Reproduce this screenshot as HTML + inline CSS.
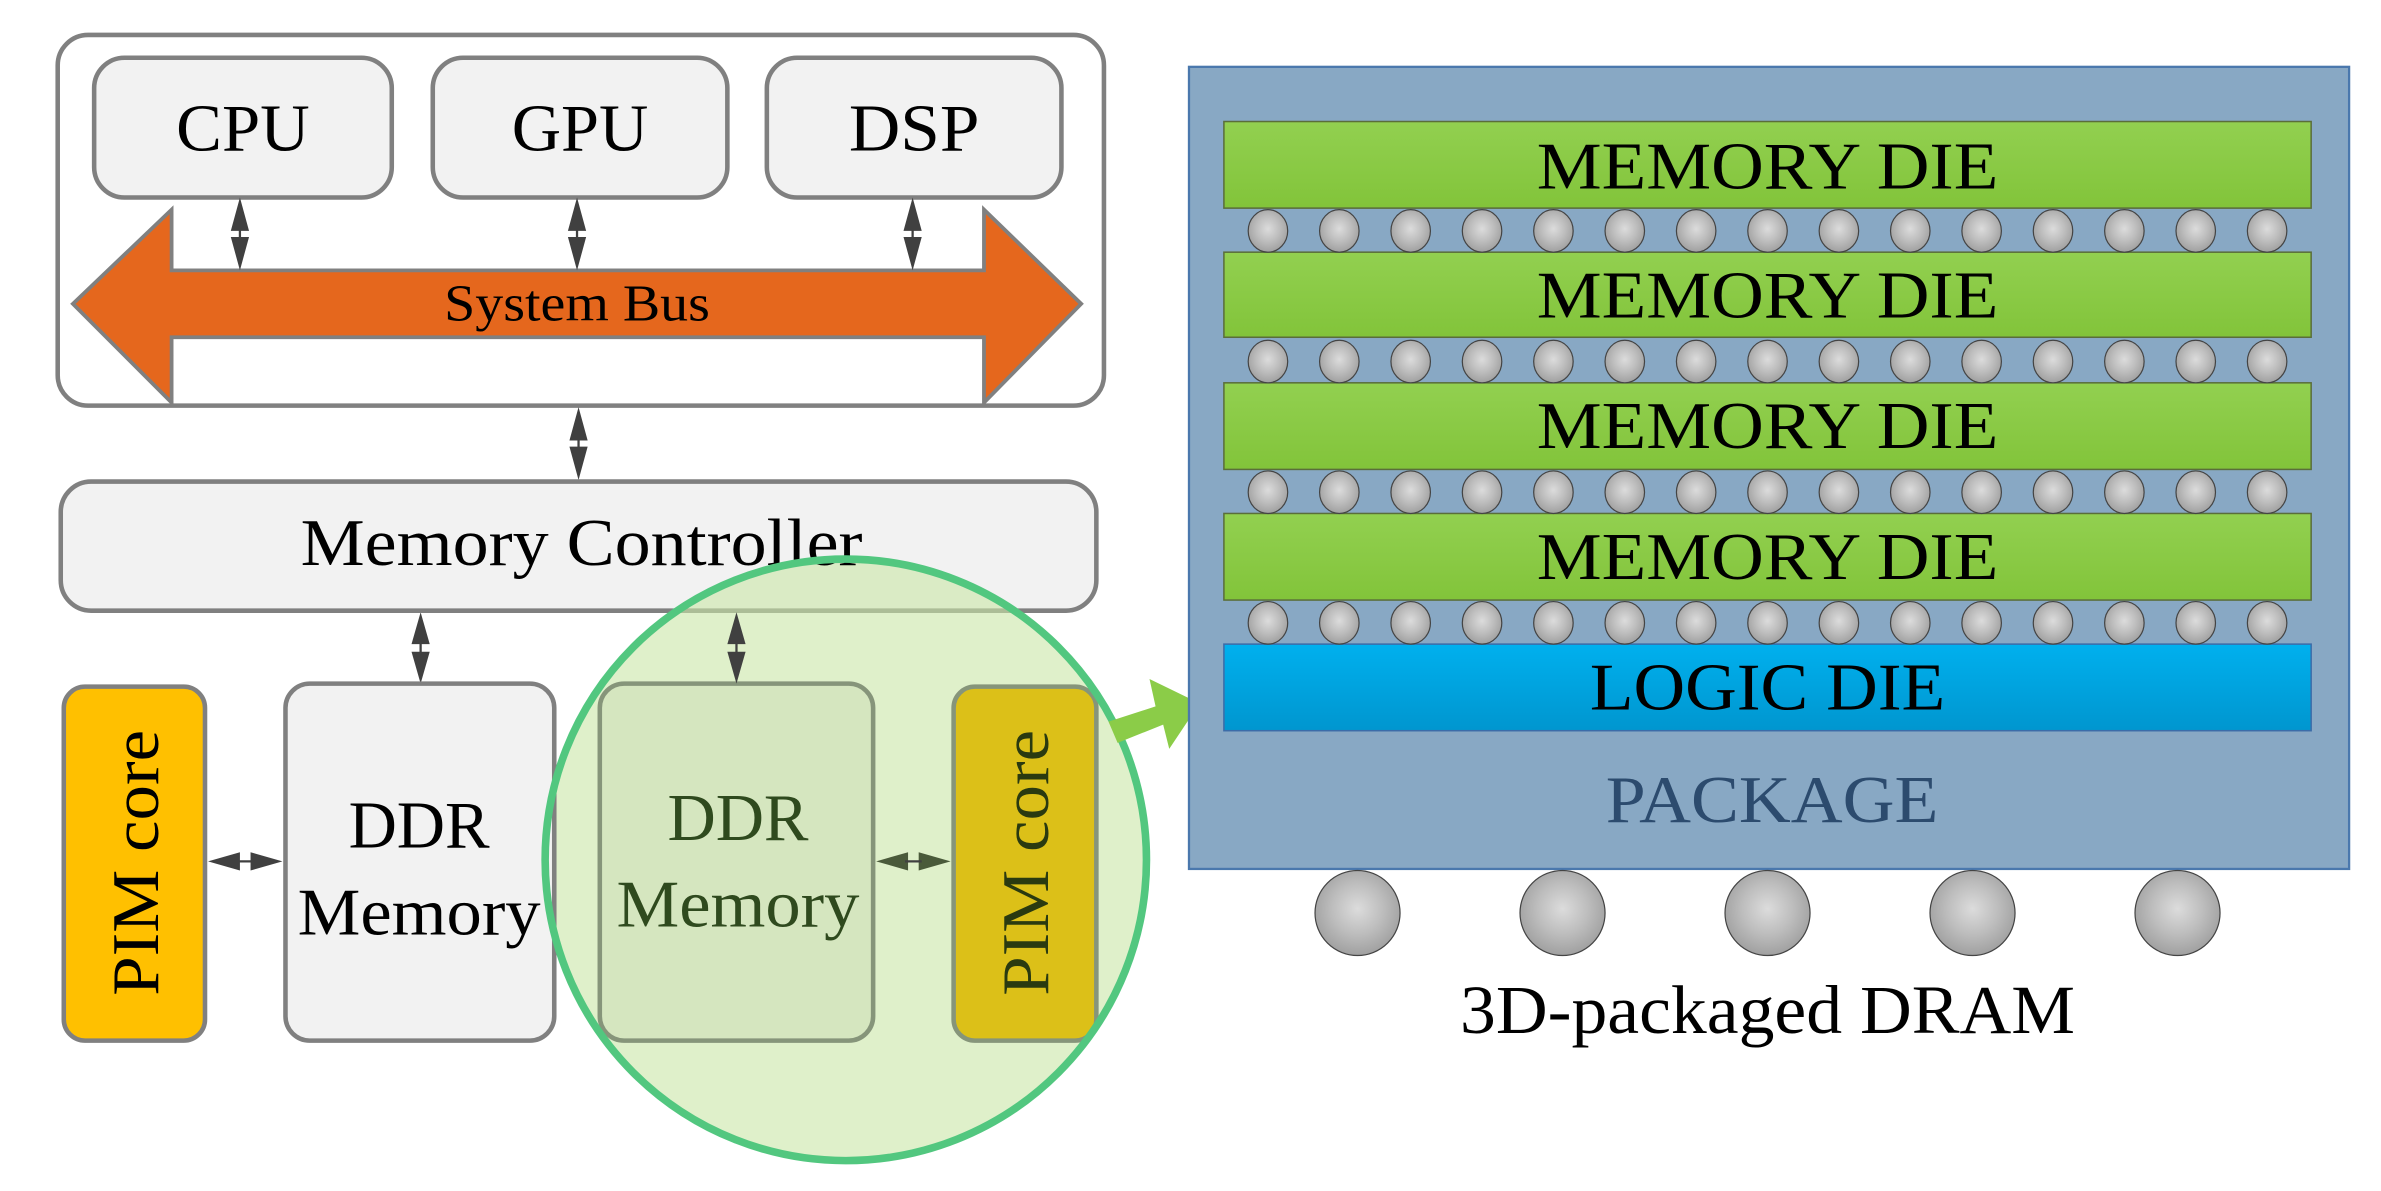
<!DOCTYPE html>
<html><head><meta charset="utf-8"><style>
html,body{margin:0;padding:0;background:#fff;}
svg{display:block;}
text{font-family:"Liberation Serif",serif;}
</style></head><body>
<svg width="2381" height="1191" viewBox="0 0 1568 784" xmlns="http://www.w3.org/2000/svg" preserveAspectRatio="none">
<defs>
<linearGradient id="gr" x1="0" y1="0" x2="0" y2="1"><stop offset="0" stop-color="#92d050"/><stop offset="1" stop-color="#82c43a"/></linearGradient>
<linearGradient id="bl" x1="0" y1="0" x2="0" y2="1"><stop offset="0" stop-color="#00b0ee"/><stop offset="1" stop-color="#0096cf"/></linearGradient>
<radialGradient id="ball" cx="0.5" cy="0.45" r="0.6"><stop offset="0" stop-color="#dcdcdc"/><stop offset="0.5" stop-color="#bdbdbd"/><stop offset="1" stop-color="#9a9a9a"/></radialGradient>
</defs>
<!-- outer system box -->
<rect x="38" y="23" width="689" height="244" rx="20" fill="#fff" stroke="#808080" stroke-width="3"/>
<g fill="#f2f2f2" stroke="#808080" stroke-width="3">
<rect x="62" y="38" width="196" height="92" rx="20"/>
<rect x="285" y="38" width="194" height="92" rx="20"/>
<rect x="505" y="38" width="194" height="92" rx="20"/>
</g>
<g font-size="44" text-anchor="middle" fill="#000" lengthAdjust="spacingAndGlyphs">
<text x="160" y="99" textLength="88" lengthAdjust="spacingAndGlyphs">CPU</text><text x="382" y="99" textLength="90" lengthAdjust="spacingAndGlyphs">GPU</text><text x="602" y="99" textLength="86" lengthAdjust="spacingAndGlyphs">DSP</text>
</g>
<!-- bus arrow -->
<path d="M48,200 L113,138 L113,178 L648,178 L648,138 L712,200 L648,265 L648,222 L113,222 L113,265 Z" fill="#e5671d" stroke="#808080" stroke-width="2.5"/>
<text x="380" y="211" font-size="34" text-anchor="middle" textLength="175" lengthAdjust="spacingAndGlyphs">System Bus</text>
<!-- double arrows -->
<g stroke="#404040" stroke-width="1.5" fill="#404040">
<path d="M158,130 L152,152 L164,152 Z M158,178 L152,156 L164,156 Z" stroke="none"/><line x1="158" y1="150" x2="158" y2="158"/>
<path d="M380,130 L374,152 L386,152 Z M380,178 L374,156 L386,156 Z" stroke="none"/><line x1="380" y1="150" x2="380" y2="158"/>
<path d="M601,130 L595,152 L607,152 Z M601,178 L595,156 L607,156 Z" stroke="none"/><line x1="601" y1="150" x2="601" y2="158"/>
<path d="M381,268 L375,290 L387,290 Z M381,316 L375,294 L387,294 Z" stroke="none"/><line x1="381" y1="288" x2="381" y2="296"/>
<path d="M277,403 L271,424 L283,424 Z M277,450 L271,429 L283,429 Z" stroke="none"/><line x1="277" y1="422" x2="277" y2="431"/>
<path d="M137,567 L158,561 L158,573 Z M186,567 L165,561 L165,573 Z" stroke="none"/><line x1="156" y1="567" x2="167" y2="567"/>
</g>
<!-- memory controller -->
<rect x="40" y="317" width="682" height="85" rx="20" fill="#f2f2f2" stroke="#808080" stroke-width="3"/>
<!-- circle fill -->
<circle cx="557" cy="566" r="198" fill="#c9e6a6" fill-opacity="0.6"/>
<text x="383" y="372" font-size="44" text-anchor="middle" textLength="370" lengthAdjust="spacingAndGlyphs">Memory Controller</text>
<!-- left PIM + DDR -->
<rect x="42" y="452" width="93" height="233" rx="14" fill="#ffc000" stroke="#808080" stroke-width="3"/>
<text transform="translate(104,568) rotate(-90)" font-size="44" text-anchor="middle" textLength="175" lengthAdjust="spacingAndGlyphs">PIM core</text>
<rect x="188" y="450" width="177" height="235" rx="16" fill="#f2f2f2" stroke="#808080" stroke-width="3"/>
<text x="276" y="558" font-size="44" text-anchor="middle">DDR</text>
<text x="276" y="615" font-size="44" text-anchor="middle" textLength="160" lengthAdjust="spacingAndGlyphs">Memory</text>
<!-- right PIM + DDR -->
<rect x="395" y="450" width="180" height="235" rx="16" fill="#d5e6bf" stroke="#86957a" stroke-width="3"/>
<rect x="628" y="452" width="94" height="233" rx="14" fill="#dcc018" stroke="#86957a" stroke-width="3"/>
<g stroke="#404040" stroke-width="1.5" fill="#404040">
<path d="M485,403 L479,424 L491,424 Z M485,450 L479,429 L491,429 Z" stroke="none"/><line x1="485" y1="422" x2="485" y2="431"/>
<path d="M577,567 L598,561 L598,573 Z M626,567 L605,561 L605,573 Z" fill="#4a5a3a" stroke="none"/><line x1="596" y1="567" x2="607" y2="567"/>
</g>
<text x="486" y="553" font-size="44" text-anchor="middle" fill="#2f4a1e">DDR</text>
<text x="486" y="610" font-size="44" text-anchor="middle" fill="#2f4a1e" textLength="160" lengthAdjust="spacingAndGlyphs">Memory</text>
<text transform="translate(690,568) rotate(-90)" font-size="44" text-anchor="middle" fill="#2a3a10" textLength="175" lengthAdjust="spacingAndGlyphs">PIM core</text>
<circle cx="557" cy="566" r="198" fill="none" stroke="#52c77f" stroke-width="5"/>
<!-- green arrow -->
<path d="M730,475 L761,465 L757,447 L790,463 L770,493 L766,477 L736,489 Z" fill="#8bcc48"/>
<!-- package -->
<rect x="783" y="44" width="764" height="528" fill="#88a8c4" stroke="#4a78ad" stroke-width="1.5"/>
<g stroke="#5a6e3a" stroke-width="1">
<rect x="806" y="80" width="716" height="57" fill="url(#gr)"/>
<rect x="806" y="166" width="716" height="56" fill="url(#gr)"/>
<rect x="806" y="252" width="716" height="57" fill="url(#gr)"/>
<rect x="806" y="338" width="716" height="57" fill="url(#gr)"/>
</g>
<rect x="806" y="424" width="716" height="57" fill="url(#bl)" stroke="#3c6ca8" stroke-width="1"/>
<g font-size="44" text-anchor="middle">
<text x="1164" y="124" textLength="304" lengthAdjust="spacingAndGlyphs">MEMORY DIE</text>
<text x="1164" y="209" textLength="304" lengthAdjust="spacingAndGlyphs">MEMORY DIE</text>
<text x="1164" y="295" textLength="304" lengthAdjust="spacingAndGlyphs">MEMORY DIE</text>
<text x="1164" y="381" textLength="304" lengthAdjust="spacingAndGlyphs">MEMORY DIE</text>
<text x="1164" y="467" textLength="234" lengthAdjust="spacingAndGlyphs">LOGIC DIE</text>
<text x="1167" y="541" fill="#2c4b6e" textLength="219" lengthAdjust="spacingAndGlyphs">PACKAGE</text>
<text x="1164" y="680" font-size="45" textLength="405" lengthAdjust="spacingAndGlyphs">3D-packaged DRAM</text>
</g>
<g fill="url(#ball)" stroke="#444" stroke-width="0.8">
<g id="row">
<ellipse cx="835" cy="152" rx="13" ry="14"/><ellipse cx="882" cy="152" rx="13" ry="14"/><ellipse cx="929" cy="152" rx="13" ry="14"/><ellipse cx="976" cy="152" rx="13" ry="14"/><ellipse cx="1023" cy="152" rx="13" ry="14"/><ellipse cx="1070" cy="152" rx="13" ry="14"/><ellipse cx="1117" cy="152" rx="13" ry="14"/><ellipse cx="1164" cy="152" rx="13" ry="14"/><ellipse cx="1211" cy="152" rx="13" ry="14"/><ellipse cx="1258" cy="152" rx="13" ry="14"/><ellipse cx="1305" cy="152" rx="13" ry="14"/><ellipse cx="1352" cy="152" rx="13" ry="14"/><ellipse cx="1399" cy="152" rx="13" ry="14"/><ellipse cx="1446" cy="152" rx="13" ry="14"/><ellipse cx="1493" cy="152" rx="13" ry="14"/>
</g>
<use href="#row" y="86"/><use href="#row" y="172"/><use href="#row" y="258"/>
<circle cx="894" cy="601" r="28"/><circle cx="1029" cy="601" r="28"/><circle cx="1164" cy="601" r="28"/><circle cx="1299" cy="601" r="28"/><circle cx="1434" cy="601" r="28"/>
</g>
</svg>
</body></html>
